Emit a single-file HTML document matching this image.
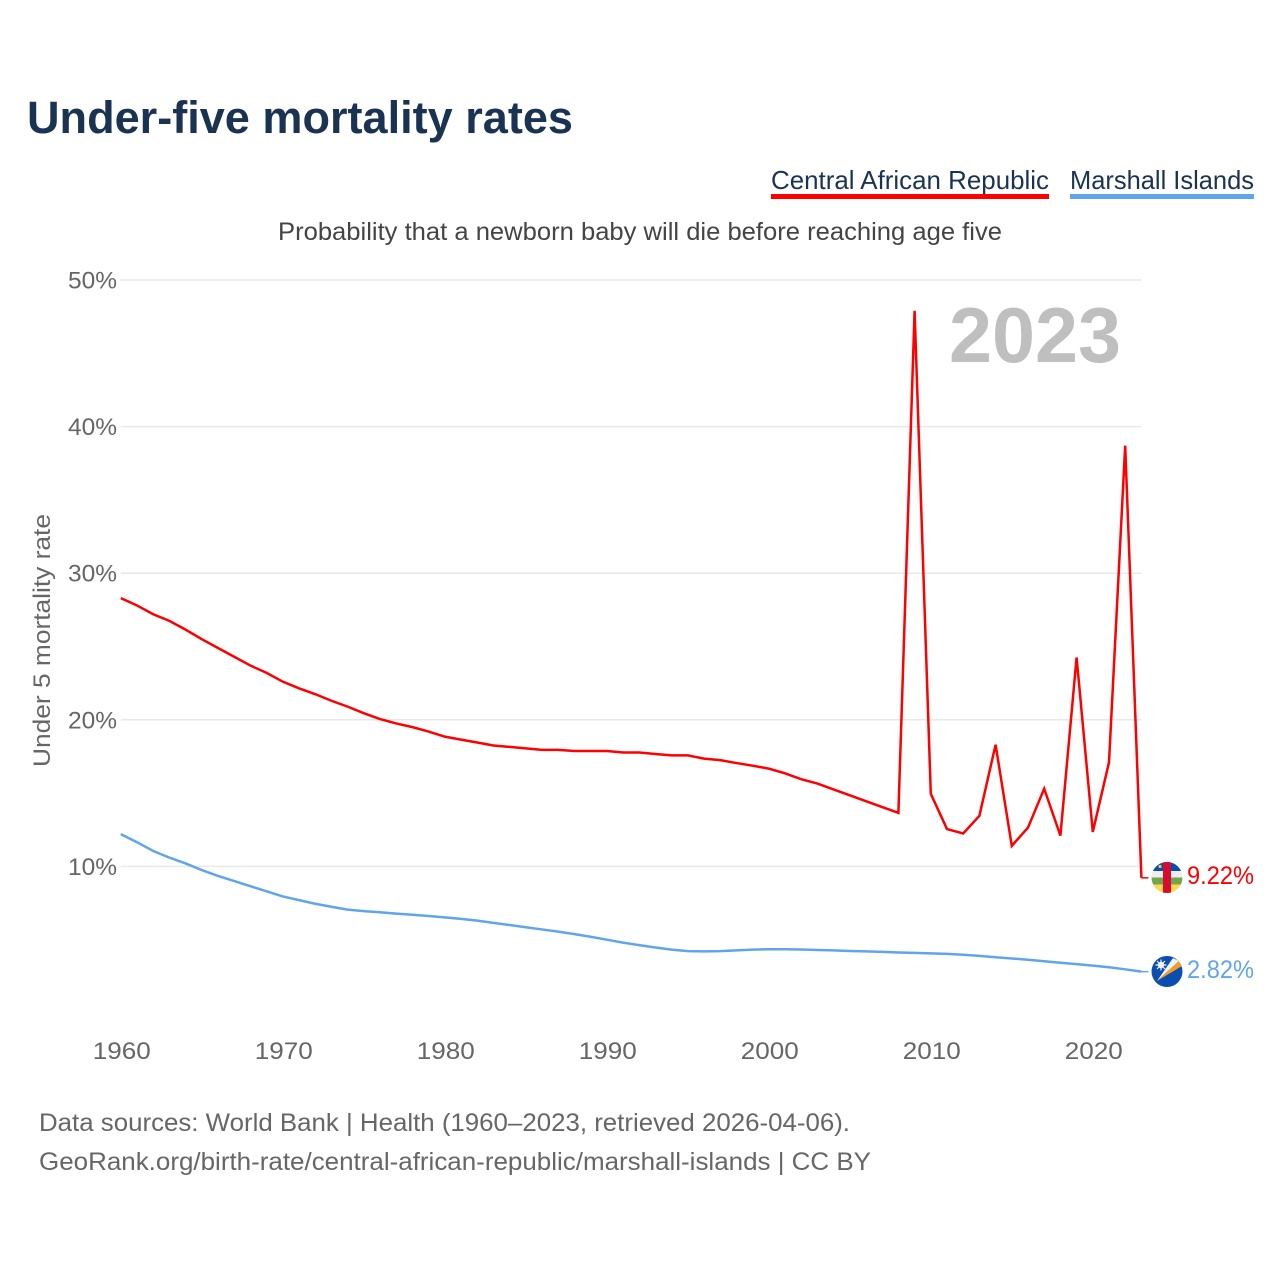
<!DOCTYPE html>
<html lang="en">
<head>
<meta charset="utf-8">
<title>Under-five mortality rates</title>
<style>
html,body{margin:0;padding:0;background:#fff;}
svg{display:block;}
text{font-family:"Liberation Sans",sans-serif;}
</style>
</head>
<body>
<svg id="chart" width="1280" height="1280" viewBox="0 0 1280 1280" xmlns="http://www.w3.org/2000/svg">
<defs>
<clipPath id="clip-a"><circle cx="1167" cy="877.5" r="15.5"/></clipPath>
<clipPath id="clip-b"><circle cx="1167" cy="971.5" r="15.5"/></clipPath>
</defs>
<rect width="1280" height="1280" fill="#fff"/>
<text x="27" y="133" font-size="45" font-weight="700" fill="#1b3352" textLength="546" lengthAdjust="spacingAndGlyphs">Under-five mortality rates</text>
<g>
<text x="771" y="189" font-size="26" fill="#1b3352" textLength="278" lengthAdjust="spacingAndGlyphs">Central African Republic</text>
<rect x="771" y="194" width="278" height="5" fill="#ff0000"/>
</g>
<g>
<text x="1070" y="189" font-size="26" fill="#1b3352" textLength="184" lengthAdjust="spacingAndGlyphs">Marshall Islands</text>
<rect x="1070" y="194" width="184" height="5" fill="#60a5ea"/>
</g>
<text x="278" y="240" font-size="25" fill="#444" textLength="724" lengthAdjust="spacingAndGlyphs">Probability that a newborn baby will die before reaching age five</text>
<text transform="translate(50,767) rotate(-90)" font-size="24" fill="#666" textLength="253" lengthAdjust="spacingAndGlyphs">Under 5 mortality rate</text>
<g id="grid"></g>
<g id="yticks"></g>
<g id="xticks"></g>
<text x="949" y="362" font-size="78" font-weight="700" fill="#bfbfbf" textLength="172" lengthAdjust="spacingAndGlyphs">2023</text>
<g id="series"></g>
<g clip-path="url(#clip-a)">
<rect x="1151" y="862" width="32" height="9" fill="#0a4fb0"/>
<rect x="1151" y="871" width="32" height="6.5" fill="#eeeeee"/>
<rect x="1151" y="877.5" width="32" height="7" fill="#72a64a"/>
<rect x="1151" y="884.5" width="32" height="9" fill="#fbd84e"/>
<rect x="1163" y="862" width="8" height="32" fill="#d80a30"/>
<circle cx="1160" cy="866.5" r="1.6" fill="#f5c542"/>
</g>
<g clip-path="url(#clip-b)">
<rect x="1151" y="955" width="32" height="33" fill="#0a4fb0"/>
<polygon points="1157,981 1173,958 1179,961" fill="#f2f2f2"/>
<polygon points="1157,981 1179,961 1182,966" fill="#f59a23"/>
<circle cx="1161" cy="965" r="3.2" fill="#f2f2f2"/>
<path d="M1161 959.5V970.5M1155.5 965H1166.5M1157 961L1165 969M1165 961L1157 969" stroke="#f2f2f2" stroke-width="1.2"/>
</g>
<text id="label-a" x="1187" y="884" font-size="25" fill="#ff0000" textLength="67" lengthAdjust="spacingAndGlyphs"></text>
<text id="label-b" x="1187" y="978" font-size="25" fill="#60a5ea" textLength="67" lengthAdjust="spacingAndGlyphs"></text>
<text x="39" y="1131" font-size="25" fill="#666" textLength="811" lengthAdjust="spacingAndGlyphs">Data sources: World Bank | Health (1960–2023, retrieved 2026-04-06).</text>
<text x="39" y="1170" font-size="25" fill="#666" textLength="832" lengthAdjust="spacingAndGlyphs">GeoRank.org/birth-rate/central-african-republic/marshall-islands | CC BY</text>
</svg>
<script>
const startYear = 1960;
const yTickValues = [10, 20, 30, 40, 50];
const xTickYears = [1960, 1970, 1980, 1990, 2000, 2010, 2020];
const centralAfricanRepublic = [28.3,27.8,27.2,26.75,26.15,25.5,24.9,24.3,23.7,23.2,22.6,22.15,21.75,21.3,20.9,20.45,20.05,19.75,19.5,19.2,18.85,18.65,18.45,18.25,18.15,18.05,17.95,17.95,17.87,17.87,17.87,17.77,17.77,17.67,17.57,17.57,17.35,17.25,17.05,16.87,16.67,16.35,15.95,15.65,15.25,14.85,14.45,14.05,13.65,47.9,14.95,12.55,12.25,13.45,18.3,11.4,12.65,15.3,12.1,24.25,12.35,17.1,38.7,9.22];
const marshallIslands = [12.2,11.65,11.05,10.6,10.2,9.75,9.35,9.0,8.65,8.3,7.95,7.7,7.45,7.25,7.05,6.95,6.87,6.78,6.7,6.62,6.52,6.42,6.3,6.15,6.0,5.85,5.7,5.55,5.38,5.2,5.0,4.8,4.63,4.47,4.32,4.22,4.2,4.22,4.27,4.32,4.35,4.35,4.33,4.3,4.27,4.23,4.2,4.17,4.13,4.1,4.07,4.03,3.97,3.9,3.8,3.72,3.63,3.53,3.43,3.33,3.23,3.12,2.98,2.82];

const NS = 'http://www.w3.org/2000/svg';
function xScale(year) { return 120.8 + (year - startYear) * 16.2; }
function yScale(value) { return 1013 - value * 14.66; }
function make(tag, parent) {
  const el = document.createElementNS(NS, tag);
  parent.appendChild(el);
  return el;
}

const grid = document.getElementById('grid');
const yticks = document.getElementById('yticks');
const xticks = document.getElementById('xticks');
const series = document.getElementById('series');

yTickValues.forEach(function (v) {
  const line = make('line', grid);
  
  
  line.setAttribute('x1', xScale(startYear));
  line.setAttribute('x2', xScale(2023));
  line.setAttribute('y1', yScale(v));
  line.setAttribute('y2', yScale(v));
  line.setAttribute('stroke', '#e9e9e9');
  line.setAttribute('stroke-width', '1.5');
  const label = make('text', yticks);
  
  
  label.setAttribute('x', 117);
  label.setAttribute('y', yScale(v) + 8.5);
  label.setAttribute('text-anchor', 'end');
  label.setAttribute('font-size', '24');
  label.setAttribute('fill', '#666');
  label.setAttribute('textLength', '49');
  label.setAttribute('lengthAdjust', 'spacingAndGlyphs');
  label.textContent = v + '%';
});

xTickYears.forEach(function (yr) {
  const label = make('text', xticks);
  
  
  label.setAttribute('x', xScale(yr) + 1);
  label.setAttribute('y', 1059);
  label.setAttribute('text-anchor', 'middle');
  label.setAttribute('font-size', '24');
  label.setAttribute('fill', '#666');
  label.setAttribute('textLength', '58');
  label.setAttribute('lengthAdjust', 'spacingAndGlyphs');
  label.textContent = yr;
});

function pathFor(values) {
  return values.map(function (v, i) {
    return (i ? 'L' : 'M') + xScale(startYear + i).toFixed(2) + ' ' + yScale(v).toFixed(2);
  }).join(' ');
}

const lineA = make('path', series);


lineA.setAttribute('d', pathFor(centralAfricanRepublic));
lineA.setAttribute('fill', 'none');
lineA.setAttribute('stroke', '#ff0000');
lineA.setAttribute('stroke-width', '2.5');
lineA.setAttribute('stroke-linejoin', 'miter');

const lineB = make('path', series);


lineB.setAttribute('d', pathFor(marshallIslands));
lineB.setAttribute('fill', 'none');
lineB.setAttribute('stroke', '#60a5ea');
lineB.setAttribute('stroke-width', '2.5');

const lastA = centralAfricanRepublic[centralAfricanRepublic.length - 1];
const lastB = marshallIslands[marshallIslands.length - 1];

const connA = make('line', series);


connA.setAttribute('x1', xScale(2023));
connA.setAttribute('x2', xScale(2023) + 7);
connA.setAttribute('y1', yScale(lastA));
connA.setAttribute('y2', yScale(lastA));
connA.setAttribute('stroke', '#ff0000');
connA.setAttribute('stroke-width', '1.5');

const connB = make('line', series);


connB.setAttribute('x1', xScale(2023));
connB.setAttribute('x2', xScale(2023) + 7);
connB.setAttribute('y1', yScale(lastB));
connB.setAttribute('y2', yScale(lastB));
connB.setAttribute('stroke', '#60a5ea');
connB.setAttribute('stroke-width', '1.5');

document.getElementById('label-a').textContent = lastA.toFixed(2) + '%';
document.getElementById('label-b').textContent = lastB.toFixed(2) + '%';
</script>
</body>
</html>
